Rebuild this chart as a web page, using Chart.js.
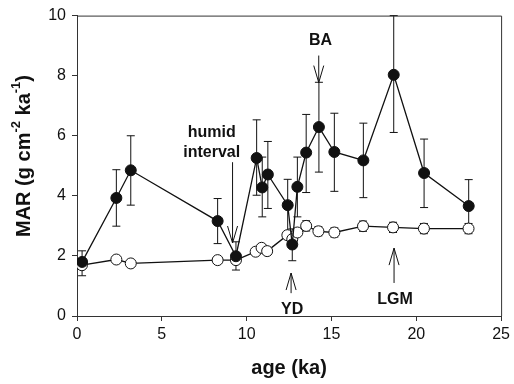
<!DOCTYPE html>
<html>
<head>
<meta charset="utf-8">
<script src="https://cdn.jsdelivr.net/npm/chart.js@4"></script>
<style>
  html, body { margin: 0; padding: 0; background: #fff; }
  #wrap { width: 514px; height: 384px; }
</style>
</head>
<body>
<div id="wrap"><canvas id="marChart" width="514" height="384"></canvas></div>
<script>
// Filled circles (MAR) with error bars
const ageFilled = [0.3, 2.32, 3.17, 8.29, 9.37, 10.59, 10.92, 11.25, 12.42, 12.69, 12.99, 13.51, 14.26, 15.17, 16.88, 18.67, 20.46, 23.09];
const marFilled = [1.8, 3.93, 4.85, 3.16, 1.99, 5.26, 4.28, 4.71, 3.69, 2.38, 4.30, 5.44, 6.29, 5.46, 5.18, 8.03, 4.76, 3.66];
const filledHigh = [2.17, 4.87, 6.0, 3.91, 2.47, 6.53, 5.29, 5.81, 4.55, 2.9, 5.29, 6.71, 7.78, 6.75, 6.42, 10.0, 5.89, 4.54];
const filledLow = [1.34, 2.99, 3.69, 2.41, 1.53, 4.02, 3.30, 3.58, 2.8, 1.84, 3.3, 4.11, 4.79, 4.15, 3.94, 6.11, 3.61, 2.9];

// Open circles
const ageOpen = [0.29, 2.32, 3.17, 8.29, 9.37, 10.53, 10.88, 11.21, 12.4, 12.69, 12.99, 13.51, 14.23, 15.17, 16.86, 18.63, 20.45, 23.08];
const marOpen = [1.69, 1.88, 1.75, 1.86, 1.86, 2.14, 2.27, 2.16, 2.69, 2.56, 2.78, 3.0, 2.82, 2.78, 2.99, 2.95, 2.91, 2.91];
const openErr = [0, 0, 0, 0, 0, 0, 0, 0, 0, 0, 0, 0.17, 0.15, 0.15, 0.17, 0.17, 0.17, 0.17];

// Axis ticks
const xTicks = [0, 5, 10, 15, 20, 25];
const yTicks = [0, 2, 4, 6, 8, 10];

// Annotations: label text, position (age, MAR); arrows: age, from, to
const labels = [
    { text: "humid", x: 7.94, y: 6.11 },
    { text: "interval", x: 7.94, y: 5.45 },
    { text: "BA", x: 14.35, y: 9.17 },
    { text: "YD", x: 12.68, y: 0.2 },
    { text: "LGM", x: 18.75, y: 0.53 }
];
const arrows = [
    { x: 9.17, from: 5.12, to: 2.43 },
    { x: 14.25, from: 8.67, to: 7.77 },
    { x: 12.62, from: 0.76, to: 1.43 },
    { x: 18.69, from: 1.1, to: 2.26 }
];

const ink = "#111";

function toPoints(xs, ys) {
    return xs.map((x, i) => ({ x: x, y: ys[i] }));
}

// Error bars, drawn under the markers
const errorBarPlugin = {
    id: "errorBars",
    beforeDatasetsDraw(chart) {
        const ctx = chart.ctx;
        const xs = chart.scales.x;
        const ys = chart.scales.y;
        ctx.save();
        ctx.strokeStyle = ink;
        ctx.lineWidth = 1;
        const bar = (a, lo, hi) => {
            const px = xs.getPixelForValue(a);
            const p1 = ys.getPixelForValue(lo);
            const p2 = ys.getPixelForValue(hi);
            ctx.beginPath();
            ctx.moveTo(px, p1); ctx.lineTo(px, p2);
            ctx.moveTo(px - 4, p1); ctx.lineTo(px + 4, p1);
            ctx.moveTo(px - 4, p2); ctx.lineTo(px + 4, p2);
            ctx.stroke();
        };
        ageFilled.forEach((a, i) => bar(a, filledLow[i], filledHigh[i]));
        ageOpen.forEach((a, i) => {
            if (openErr[i] > 0) bar(a, marOpen[i] - openErr[i], marOpen[i] + openErr[i]);
        });
        ctx.restore();
    }
};

// Frame, annotations and the y title with superscripts
const decorPlugin = {
    id: "decor",
    afterDraw(chart) {
        const ctx = chart.ctx;
        const a = chart.chartArea;
        const xs = chart.scales.x;
        const ys = chart.scales.y;
        ctx.save();
        ctx.strokeStyle = "#333";
        ctx.lineWidth = 1;
        ctx.beginPath();
        ctx.moveTo(a.left, a.top + 0.5);
        ctx.lineTo(a.right + 0.5, a.top + 0.5);
        ctx.lineTo(a.right + 0.5, a.bottom);
        ctx.stroke();

        // annotation text
        ctx.fillStyle = ink;
        ctx.font = "bold 16px 'Liberation Sans', Arial, sans-serif";
        ctx.textAlign = "center";
        ctx.textBaseline = "middle";
        labels.forEach(l => {
            ctx.fillText(l.text, xs.getPixelForValue(l.x), ys.getPixelForValue(l.y));
        });

        // arrows with open V heads
        ctx.strokeStyle = ink;
        ctx.lineWidth = 1;
        arrows.forEach(ar => {
            const px = xs.getPixelForValue(ar.x);
            const y1 = ys.getPixelForValue(ar.from);
            const y2 = ys.getPixelForValue(ar.to);
            const dir = y2 > y1 ? 1 : -1;
            ctx.beginPath();
            ctx.moveTo(px, y1); ctx.lineTo(px, y2);
            ctx.moveTo(px - 5, y2 - dir * 17); ctx.lineTo(px, y2);
            ctx.lineTo(px + 5, y2 - dir * 17);
            ctx.stroke();
        });

        // y axis title
        ctx.translate(24, 156);
        ctx.rotate(-Math.PI / 2);
        ctx.textAlign = "left";
        ctx.textBaseline = "middle";
        const big = "bold 20px 'Liberation Sans', Arial, sans-serif";
        const small = "bold 13px 'Liberation Sans', Arial, sans-serif";
        const parts = [
            { t: "MAR (g cm", f: big, dy: 0 },
            { t: "-2", f: small, dy: -8 },
            { t: " ka", f: big, dy: 0 },
            { t: "-1", f: small, dy: -8 },
            { t: ")", f: big, dy: 0 }
        ];
        let total = 0;
        parts.forEach(p => { ctx.font = p.f; total += ctx.measureText(p.t).width; });
        let cx = -total / 2;
        parts.forEach(p => {
            ctx.font = p.f;
            ctx.fillText(p.t, cx, p.dy);
            cx += ctx.measureText(p.t).width;
        });
        ctx.restore();
    }
};

const tickFont = { family: "'Liberation Sans', Arial, sans-serif", size: 16 };

new Chart(document.getElementById("marChart").getContext("2d"), {
    type: "scatter",
    data: {
        datasets: [
            {
                label: "filled",
                data: toPoints(ageFilled, marFilled),
                showLine: true,
                borderColor: ink,
                borderWidth: 1.3,
                pointRadius: 5.5,
                pointBackgroundColor: ink,
                pointBorderColor: ink,
                pointBorderWidth: 1
            },
            {
                label: "open",
                data: toPoints(ageOpen, marOpen),
                showLine: true,
                borderColor: ink,
                borderWidth: 1.3,
                pointRadius: 5.5,
                pointBackgroundColor: "#fff",
                pointBorderColor: ink,
                pointBorderWidth: 1
            }
        ]
    },
    options: {
        responsive: false,
        animation: false,
        layout: { padding: { left: 0, right: 9, top: 15, bottom: 0 } },
        plugins: {
            legend: { display: false },
            tooltip: { enabled: false }
        },
        scales: {
            x: {
                type: "linear",
                min: 0,
                max: 25,
                afterBuildTicks: s => { s.ticks = xTicks.map(v => ({ value: v })); },
                afterFit: s => { s.height = 68; },
                grid: { display: true, drawOnChartArea: false, drawTicks: true, tickLength: 5, color: "#333" },
                border: { display: true, color: "#333", width: 1 },
                ticks: { color: ink, font: tickFont, padding: 4, maxRotation: 0 },
                title: {
                    display: true,
                    text: "age (ka)",
                    color: ink,
                    font: { family: "'Liberation Sans', Arial, sans-serif", size: 20, weight: "bold" },
                    padding: { top: 5 }
                }
            },
            y: {
                type: "linear",
                min: 0,
                max: 10,
                afterBuildTicks: s => { s.ticks = yTicks.map(v => ({ value: v })); },
                afterFit: s => { s.width = 77; },
                grid: { display: true, drawOnChartArea: false, drawTicks: true, tickLength: 5, color: "#333" },
                border: { display: true, color: "#333", width: 1 },
                ticks: { color: ink, font: tickFont, padding: 6 }
            }
        }
    },
    plugins: [errorBarPlugin, decorPlugin]
});
</script>
</body>
</html>
